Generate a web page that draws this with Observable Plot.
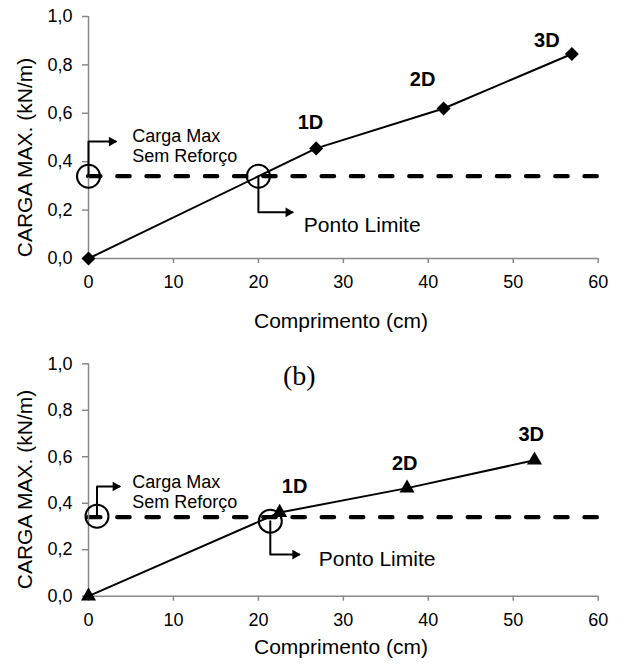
<!DOCTYPE html>
<html>
<head>
<meta charset="utf-8">
<script src="https://cdn.jsdelivr.net/npm/d3@7"></script>
<script src="https://cdn.jsdelivr.net/npm/@observablehq/plot@0.6"></script>
<style>
  body { margin: 0; background: #fff; }
  #charts { width: 623px; }
  #charts svg { display: block; overflow: visible; }
</style>
</head>
<body>
<div id="charts"></div>
<script>
// Panel (a): reinforcement length vs. maximum load (diamond markers)
const lengthA = [0, 26.8, 41.8, 56.9];
const loadA = [0, 0.455, 0.62, 0.845];
const namesA = ["", "1D", "2D", "3D"];

// Panel (b): reinforcement length vs. maximum load (triangle markers)
const lengthB = [0, 22.5, 37.5, 52.5];
const loadB = [0, 0.36, 0.465, 0.585];
const namesB = ["", "1D", "2D", "3D"];

// Maximum load without reinforcement (dashed reference)
const unreinforcedLoad = 0.34;

// Axis ticks
const xTicks = [0, 10, 20, 30, 40, 50, 60];
const yTicks = [0, 0.2, 0.4, 0.6, 0.8, 1.0];

// Highlighted points: unreinforced load and limit point
const circlesA = [[0, 0.34], [20, 0.34]];
const circlesB = [[1, 0.344], [21.4, 0.323]];

// Callout leaders (elbow lines ending in an arrow)
const leadersA = [
  [[0, 0.34], [0, 0.483], [3.2, 0.483]],
  [[20, 0.34], [20, 0.191], [24.0, 0.191]]
];
const leadersB = [
  [[1, 0.344], [1, 0.472], [3.65, 0.472]],
  [[21.4, 0.323], [21.4, 0.179], [24.8, 0.179]]
];

// Callout texts
const textMax = "Carga Max\nSem Reforço";
const textLimit = "Ponto Limite";
const calloutMaxA = [5.14, 0.541], calloutLimitA = [25.35, 0.136];
const calloutMaxB = [5.14, 0.525], calloutLimitB = [27.1, 0.161];

// Pixel offsets of the 1D/2D/3D labels relative to their points
const labelOffsetsA = [[0, 0], [-5.7, -26], [-21, -28.4], [-25, -13.3]];
const labelOffsetsB = [[0, 0], [15, -25.5], [-2.3, -24.8], [-3.3, -25.9]];

const axisGray = "#888";
const comma = d => d3.format(".1f")(d).replace(".", ",");

function panel({lengths, loads, names, offsets, symbol, markerR, markerRotate,
                circles, leaders, maxPos, limitPos, height, marginTop, marginBottom,
                yTitleDy, xTitleDy, caption}) {
  const pts = lengths.map((x, i) => ({x, y: loads[i], name: names[i]}));
  const labelMarks = pts.map((p, i) => p.name
    ? Plot.text([p], {x: "x", y: "y", text: "name", dx: offsets[i][0], dy: offsets[i][1],
        fontWeight: "bold", fontSize: 20, fill: "#000"})
    : null).filter(Boolean);
  const leaderMarks = leaders.flatMap(path => {
    const tip = path[path.length - 1];
    return [
      Plot.line(path, {x: d => d[0], y: d => d[1], stroke: "#000", strokeWidth: 2}),
      Plot.dot([tip], {x: d => d[0], y: d => d[1], symbol: "triangle", rotate: 90,
        r: 3.6, fill: "#000", stroke: "none", dx: -4})
    ];
  });
  const marks = [
    Plot.ruleY([unreinforcedLoad], {stroke: "#000", strokeWidth: 4.2,
      strokeDasharray: "12.5,16.7", strokeLinecap: "round"}),
    Plot.ruleX([0], {stroke: axisGray, strokeWidth: 1.5}),
    Plot.ruleY([0], {stroke: axisGray, strokeWidth: 1.5}),
    Plot.axisX({ticks: xTicks, tickSize: 5, tickPadding: 12, stroke: axisGray,
      strokeWidth: 1.5, fontSize: 18, label: null, fill: "#000"}),
    Plot.axisY({ticks: yTicks, tickSize: 6, tickPadding: 10, stroke: axisGray,
      strokeWidth: 1.5, fontSize: 18, label: null, tickFormat: comma, fill: "#000"}),
    ...leaderMarks,
    Plot.dot(circles, {x: d => d[0], y: d => d[1], r: 11.5, stroke: "#000",
      strokeWidth: 2, fill: "none"}),
    Plot.line(pts, {x: "x", y: "y", stroke: "#000", strokeWidth: 2}),
    Plot.dot(pts, {x: "x", y: "y", symbol, rotate: markerRotate, r: markerR,
      fill: "#000", stroke: "none"}),
    ...labelMarks,
    Plot.text([textMax], {x: () => maxPos[0], y: () => maxPos[1], text: d => d,
      textAnchor: "start", lineAnchor: "top", lineHeight: 1.11, fontSize: 18, fill: "#000"}),
    Plot.text([textLimit], {x: () => limitPos[0], y: () => limitPos[1], text: d => d,
      textAnchor: "start", lineAnchor: "middle", fontSize: 21, fill: "#000"}),
    Plot.text(["CARGA MAX. (kN/m)"], {text: d => d, frameAnchor: "left", rotate: -90,
      textAnchor: "middle", lineAnchor: "middle",
      dx: -63, dy: yTitleDy, fontSize: 21, fill: "#000"}),
    Plot.text(["Comprimento (cm)"], {text: d => d, frameAnchor: "bottom",
      textAnchor: "middle", lineAnchor: "middle",
      dx: -2.4, dy: xTitleDy, fontSize: 21, fill: "#000"})
  ];
  if (caption) {
    marks.push(Plot.text([caption], {text: d => d, frameAnchor: "top", dx: -44, dy: 12.7,
      textAnchor: "middle", lineAnchor: "middle",
      fontSize: 28, fontFamily: "'Liberation Serif', 'Times New Roman', serif", fill: "#000"}));
  }
  return Plot.plot({
    width: 623,
    height,
    marginLeft: 88,
    marginRight: 25.3,
    marginTop,
    marginBottom,
    x: {domain: [0, 60]},
    y: {domain: [0, 1]},
    style: {fontFamily: "'Liberation Sans', Arial, sans-serif", background: "#fff",
      color: "#000", overflow: "visible"},
    marks
  });
}

const root = document.getElementById("charts");
root.appendChild(panel({
  lengths: lengthA, loads: loadA, names: namesA, offsets: labelOffsetsA,
  symbol: "square", markerR: 5.6, markerRotate: 45,
  circles: circlesA, leaders: leadersA, maxPos: calloutMaxA, limitPos: calloutLimitA,
  height: 335, marginTop: 16, marginBottom: 77, yTitleDy: 20, xTitleDy: 62.3
}));
root.appendChild(panel({
  lengths: lengthB, loads: loadB, names: namesB, offsets: labelOffsetsB,
  symbol: "triangle", markerR: 5.6, markerRotate: 0,
  circles: circlesB, leaders: leadersB, maxPos: calloutMaxB, limitPos: calloutLimitB,
  height: 331, marginTop: 28.3, marginBottom: 70.3, yTitleDy: 9.5, xTitleDy: 51.2,
  caption: "(b)"
}));
</script>
</body>
</html>
